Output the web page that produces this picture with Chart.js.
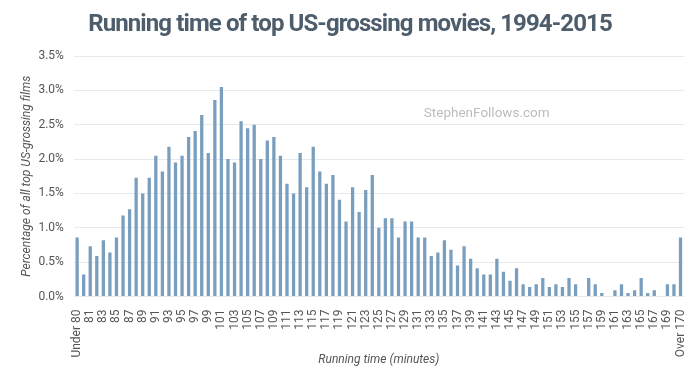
<!DOCTYPE html>
<html>
<head>
<meta charset="utf-8">
<script src="https://cdn.jsdelivr.net/npm/chart.js@4"></script>
<style>
  html, body { margin: 0; padding: 0; background: #fff; }
  #wrap { position: relative; width: 700px; height: 384px; }
</style>
</head>
<body>
<div id="wrap"><canvas id="runtimeChart"></canvas></div>
<script>
// categories: Under 80, 80 ... 170, Over 170
const minutes = [];
minutes.push('Under 80');
for (let m = 80; m <= 170; m++) minutes.push(String(m));
minutes.push('Over 170');

// share of films per running time (%)
const shares = [
    0.86, 0.32, 0.73, 0.59, 0.82, 0.64, 0.86, 1.18, 1.27, 1.73,
    1.50, 1.73, 2.05, 1.82, 2.18, 1.95, 2.05, 2.32, 2.41, 2.64,
    2.09, 2.86, 3.05, 2.00, 1.95, 2.55, 2.45, 2.50, 2.00, 2.27,
    2.32, 2.05, 1.64, 1.50, 2.09, 1.59, 2.18, 1.82, 1.64, 1.77,
    1.41, 1.09, 1.59, 1.23, 1.55, 1.77, 1.00, 1.14, 1.14, 0.86,
    1.09, 1.09, 0.86, 0.86, 0.59, 0.64, 0.82, 0.68, 0.45, 0.73,
    0.55, 0.41, 0.32, 0.32, 0.55, 0.36, 0.23, 0.41, 0.18, 0.14,
    0.18, 0.27, 0.14, 0.18, 0.14, 0.27, 0.18, 0.00, 0.27, 0.18,
    0.05, 0.00, 0.09, 0.18, 0.05, 0.09, 0.27, 0.05, 0.09, 0.00,
    0.18, 0.18, 0.86
];

const yTicks = [0, 0.5, 1.0, 1.5, 2.0, 2.5, 3.0, 3.5];

const chartTitle = 'Running time of top US-grossing movies, 1994-2015';

// condensed-looking title and the watermark
const extraText = {
    id: 'extraText',
    afterDraw(chart) {
        const ctx = chart.ctx;
        const area = chart.chartArea;
        ctx.save();
        ctx.font = 'bold 24px Roboto';
        ctx.letterSpacing = '-0.9px';
        ctx.fillStyle = '#4d5d6c';
        ctx.textAlign = 'center';
        ctx.textBaseline = 'alphabetic';
        ctx.fillText(chartTitle, 350, 31);
        ctx.letterSpacing = '0px';
        ctx.font = '13.5px Roboto';
        ctx.fillStyle = '#bdbdbd';
        ctx.textAlign = 'left';
        ctx.textBaseline = 'middle';
        ctx.fillText('StephenFollows.com', area.left + 350, area.top + 58);
        ctx.restore();
    }
};

const tickFont = { family: 'Roboto', size: 12 };

new Chart(document.getElementById('runtimeChart'), {
    type: 'bar',
    data: {
        labels: minutes,
        datasets: [{
            data: shares,
            backgroundColor: '#7a9ebd',
            barPercentage: 0.5,
            categoryPercentage: 1.0
        }]
    },
    options: {
        responsive: true,
        maintainAspectRatio: false,
        animation: false,
        layout: { padding: { left: 20, right: 15, top: 56, bottom: 17 } },
        plugins: {
            legend: { display: false },
            tooltip: { enabled: false },
            title: { display: false }
        },
        scales: {
            x: {
                grid: { display: false },
                border: { display: false },
                ticks: {
                    autoSkip: false,
                    maxRotation: 90,
                    minRotation: 90,
                    color: '#555',
                    font: tickFont,
                    padding: 5,
                    callback: function (value, index) {
                        return index % 2 === 0 ? this.getLabelForValue(value) : '';
                    }
                },
                title: {
                    display: true,
                    text: 'Running time (minutes)',
                    color: '#555',
                    font: { family: 'Roboto', size: 12, style: 'italic' },
                    padding: { top: -10, bottom: 0 }
                }
            },
            y: {
                min: 0,
                max: 3.5,
                afterBuildTicks: function (axis) {
                    axis.ticks = yTicks.map(v => ({ value: v }));
                },
                grid: { color: '#e6e9ef', drawTicks: false },
                border: { display: false },
                ticks: {
                    color: '#555',
                    font: tickFont,
                    padding: 10,
                    callback: v => v.toFixed(1) + '%'
                },
                title: {
                    display: true,
                    text: 'Percentage of all top US-grossing films',
                    color: '#555',
                    font: { family: 'Roboto', size: 12, style: 'italic' },
                    padding: { top: 0, bottom: -6 }
                }
            }
        }
    },
    plugins: [extraText]
});
</script>
</body>
</html>
